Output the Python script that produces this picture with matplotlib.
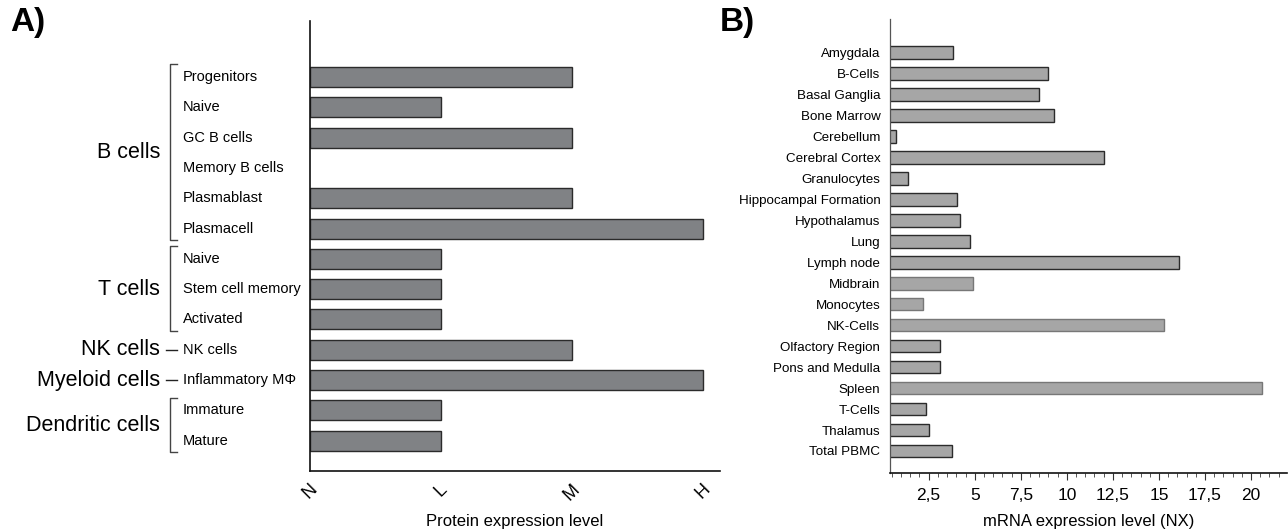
import matplotlib
matplotlib.use('Agg')
import matplotlib.pyplot as plt
from matplotlib.lines import Line2D
from matplotlib.transforms import blended_transform_factory
from matplotlib.ticker import MultipleLocator
import numpy as np

plt.rcParams['font.family'] = ['Liberation Sans', 'DejaVu Sans']

# ---------------- Panel A data ----------------
cells = ['Progenitors', 'Naive', 'GC B cells', 'Memory B cells', 'Plasmablast',
         'Plasmacell', 'Naive', 'Stem cell memory', 'Activated', 'NK cells',
         'Inflammatory M\u03a6', 'Immature', 'Mature']
protein_level = [2, 1, 2, 0, 2, 3, 1, 1, 1, 2, 3, 1, 1]
level_labels = ['N', 'L', 'M', 'H']
groups = ['B cells', 'T cells', 'NK cells', 'Myeloid cells', 'Dendritic cells']
group_first = [0, 6, 9, 10, 11]
group_last = [5, 8, 9, 10, 12]

# ---------------- Panel B data ----------------
tissues = ['Amygdala', 'B-Cells', 'Basal Ganglia', 'Bone Marrow', 'Cerebellum',
           'Cerebral Cortex', 'Granulocytes', 'Hippocampal Formation', 'Hypothalamus',
           'Lung', 'Lymph node', 'Midbrain', 'Monocytes', 'NK-Cells',
           'Olfactory Region', 'Pons and Medulla', 'Spleen', 'T-Cells', 'Thalamus',
           'Total PBMC']
mrna_nx = [3.8, 9.0, 8.5, 9.3, 0.75, 12.0, 1.35, 4.05, 4.2, 4.75, 16.1, 4.9,
           2.2, 15.3, 3.1, 3.1, 20.6, 2.35, 2.5, 3.75]
nx_ticks = [2.5, 5, 7.5, 10, 12.5, 15, 17.5, 20]
nx_tick_labels = ['2,5', '5', '7,5', '10', '12,5', '15', '17,5', '20']
light_edge = ['Midbrain', 'Monocytes', 'NK-Cells', 'Spleen']

W, H = 1288, 531
fig = plt.figure(figsize=(W / 100, H / 100), dpi=100)

# ---------------- Panel A ----------------
axA = fig.add_axes([310 / W, 60 / H, 410 / W, 450 / H])
yA = np.arange(len(cells))
lwA = [1.0 if v > 0 else 0.0 for v in protein_level]
axA.barh(yA, protein_level, height=0.66, color='#808285', edgecolor='#2b2b2b',
         linewidth=lwA)
axA.set_ylim(len(cells) - 1 + 1.0, -1.85)
axA.set_xlim(0, 3.13)
axA.set_xticks(range(len(level_labels)))
axA.set_xticklabels(level_labels, rotation=45, fontsize=13)
axA.tick_params(axis='x', length=0, pad=7)
axA.set_yticks([])
for s in ['top', 'right']:
    axA.spines[s].set_visible(False)
for s in ['left', 'bottom']:
    axA.spines[s].set_linewidth(1.2)
    axA.spines[s].set_color('#111111')
axA.set_xlabel('Protein expression level', fontsize=12, labelpad=8)

trA = blended_transform_factory(axA.transAxes, axA.transData)
for i, c in enumerate(cells):
    axA.text(-0.31, i, c, transform=trA, ha='left', va='center', fontsize=10.5,
             clip_on=False)

xv = -0.341
xh = -0.324
for g, a, b in zip(groups, group_first, group_last):
    if a == b:
        axA.add_line(Line2D([-0.352, xh], [a, a], transform=trA, color='#222222',
                            lw=1.0, clip_on=False))
        yc = a
    else:
        top = a - 0.42
        bot = b + 0.38
        axA.add_line(Line2D([xh, xv, xv, xh], [top, top, bot, bot], transform=trA,
                            color='#444444', lw=1.0, clip_on=False))
        yc = (a + b) / 2
    axA.text(-0.366, yc, g, transform=trA, ha='right', va='center', fontsize=15.5,
             clip_on=False)

# ---------------- Panel B ----------------
axB = fig.add_axes([890 / W, 58 / H, 397 / W, 454 / H])
yB = np.arange(len(tissues))
edges = ['#777777' if t in light_edge else '#2b2b2b' for t in tissues]
axB.barh(yB, mrna_nx, height=0.6, color='#a6a6a6', edgecolor=edges, linewidth=1.0)
axB.set_ylim(len(tissues) - 1 + 1.05, -1.6)
axB.set_xlim(0.4, 21.95)
axB.set_xticks(nx_ticks)
axB.set_xticklabels(nx_tick_labels, fontsize=12.5)
axB.xaxis.set_minor_locator(MultipleLocator(0.5))
axB.tick_params(axis='x', which='major', length=5, width=0.8, pad=6, color='#333333')
axB.tick_params(axis='x', which='minor', length=3, width=0.7, color='#555555')
axB.set_yticks(yB)
axB.set_yticklabels(tissues, fontsize=9.6)
axB.tick_params(axis='y', length=0, pad=7)
for s in ['top', 'right']:
    axB.spines[s].set_visible(False)
axB.spines['left'].set_color('#555555')
axB.spines['left'].set_linewidth(0.9)
axB.spines['bottom'].set_color('#111111')
axB.spines['bottom'].set_linewidth(1.2)
axB.set_xlabel('mRNA expression level (NX)', fontsize=12, labelpad=8)

# panel letters
fig.text(10 / W, 1 - 22 / H, 'A)', fontsize=24, fontweight='bold', va='center', ha='left')
fig.text(720 / W, 1 - 22 / H, 'B)', fontsize=24, fontweight='bold', va='center', ha='left')

fig.savefig('out.png', dpi=100)
